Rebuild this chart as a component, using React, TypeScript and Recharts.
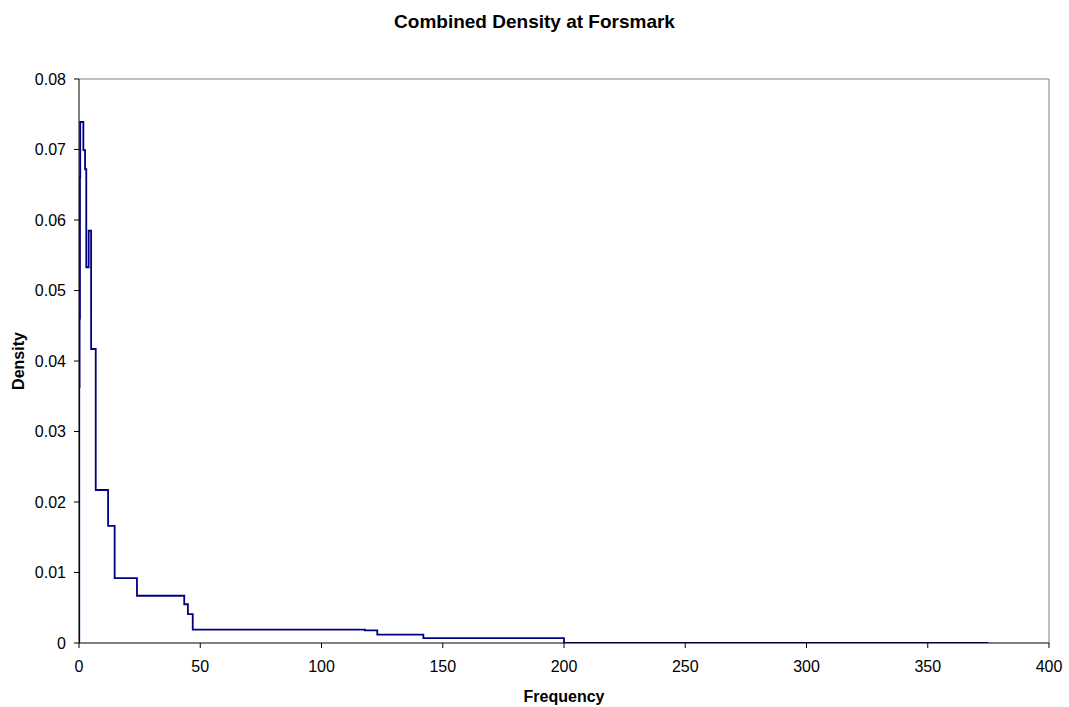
import React from 'react';
import { LineChart, Line, XAxis, YAxis, ReferenceLine } from 'recharts';

// step starts (stepAfter)
const frequency = [0, 0.1, 0.25, 0.4, 0.5, 1.8, 2.5, 3.0, 4.0, 5.0, 6.9, 12.0, 14.7, 23.9, 43.4, 44.9, 46.9, 117.9, 123.0, 142.0, 200.0, 375];
const density = [0, 0.0363, 0.046, 0.066, 0.0739, 0.0699, 0.0672, 0.0533, 0.0585, 0.0417, 0.0217, 0.0166, 0.0092, 0.0067, 0.0055, 0.0041, 0.0019, 0.0018, 0.0012, 0.0007, 0.00003, 0.00003];

const xTicks = [0, 50, 100, 150, 200, 250, 300, 350, 400];
const yTicks = [0, 0.01, 0.02, 0.03, 0.04, 0.05, 0.06, 0.07, 0.08];

const data = frequency.map((f, i) => ({ f, d: density[i] }));

const FONT = '"Liberation Sans", Arial, sans-serif';
const tickStyle = { fill: '#000', fontSize: 16, fontFamily: FONT };

const XTitle = ({ viewBox }: any) => (
    <text x={viewBox.x + viewBox.width / 2} y={702} textAnchor="middle"
        fontFamily={FONT} fontSize={16} fontWeight="bold" fill="#000">Frequency</text>
);

const YTitle = () => (
    <text x={24} y={361} transform="rotate(-90, 24, 361)" textAnchor="middle"
        fontFamily={FONT} fontSize={16} fontWeight="bold" fill="#000">Density</text>
);

export default function App() {
    return (
        <div style={{ position: 'absolute', left: 0, top: 0, width: 1069, height: 707, background: '#fff' }}>
            <div style={{
                position: 'absolute', left: 0, top: 11.6, width: 1069, textAlign: 'center',
                fontFamily: FONT, fontSize: 19, fontWeight: 'bold', lineHeight: 1, color: '#000',
            }}>Combined Density at Forsmark</div>
            <LineChart width={1069} height={707} data={data}
                margin={{ top: 79, right: 20, bottom: 0, left: 0 }}>
                <XAxis type="number" dataKey="f" domain={[0, 400]} ticks={xTicks} allowDataOverflow
                    height={64} tickSize={5} tickMargin={13} tick={tickStyle}
                    axisLine={{ stroke: '#000' }} tickLine={{ stroke: '#000' }}
                    label={<XTitle />} />
                <YAxis type="number" domain={[0, 0.08]} ticks={yTicks} allowDataOverflow
                    width={79} tickSize={5} tickMargin={8} tick={tickStyle}
                    tickFormatter={(v: number) => (v === 0 ? '0' : v.toFixed(2))}
                    axisLine={{ stroke: '#000' }} tickLine={{ stroke: '#000' }}
                    label={<YTitle />} />
                <ReferenceLine y={0.08} stroke="#808080" />
                <ReferenceLine x={400} stroke="#808080" />
                <Line type="stepAfter" dataKey="d" stroke="#000080" strokeWidth={1.8}
                    dot={false} isAnimationActive={false} />
            </LineChart>
        </div>
    );
}
